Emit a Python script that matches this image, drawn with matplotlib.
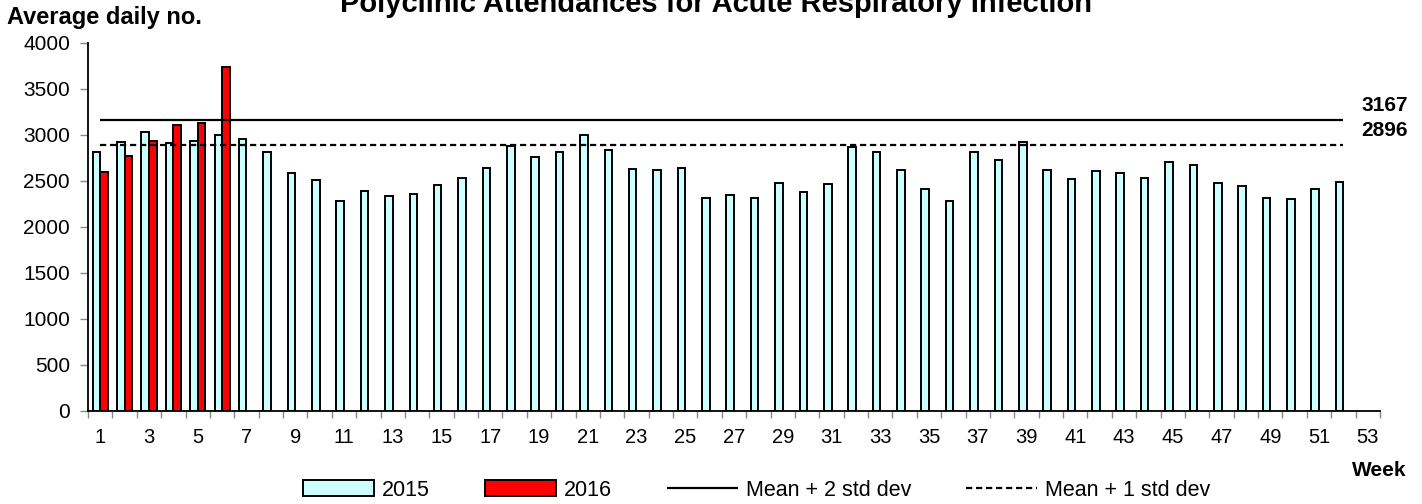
import matplotlib
matplotlib.use("Agg")
import matplotlib.pyplot as plt
import numpy as np

plt.rcParams['font.family'] = ['Liberation Sans', 'DejaVu Sans']

weeks = list(range(1, 53))
values_2015 = [2820, 2920, 3030, 2910, 2930, 3000, 2960, 2820, 2590, 2510,
               2280, 2390, 2340, 2360, 2460, 2530, 2640, 2880, 2760, 2820,
               3000, 2840, 2630, 2620, 2640, 2310, 2350, 2310, 2480, 2380,
               2470, 2870, 2810, 2620, 2410, 2280, 2820, 2730, 2920, 2620,
               2520, 2610, 2590, 2530, 2710, 2670, 2480, 2450, 2320, 2300,
               2410, 2490]
weeks_2016 = [1, 2, 3, 4, 5, 6]
values_2016 = [2600, 2770, 2940, 3110, 3130, 3740]
mean_2sd = 3167
mean_1sd = 2896
tick_labels = [str(w) for w in range(1, 54, 2)]

fig = plt.figure(figsize=(14.22, 5.04), dpi=100)
ax = fig.add_axes([88/1422, 1-411/504, (1380-88)/1422, (411-43)/504])

bw = 0.31
b15 = ax.bar(np.array(weeks) - bw/2, values_2015, width=bw, color='#CCFFFF',
             edgecolor='black', linewidth=1.4, zorder=2)
b16 = ax.bar(np.array(weeks_2016) + bw/2, values_2016, width=bw, color='#FF0000',
             edgecolor='black', linewidth=1.4, zorder=2)
l2 = ax.hlines(mean_2sd, weeks[0], weeks[-1], colors='black', linewidth=1.6, zorder=3)
l1 = ax.hlines(mean_1sd, weeks[0], weeks[-1], colors='black', linewidth=1.6,
               linestyles=(0, (2.8, 1.7)), zorder=3)

for v in (mean_2sd, mean_1sd):
    ax.annotate(str(v), xy=(1.0, v), xycoords=('axes fraction', 'data'),
                xytext=(28, 14), textcoords='offset pixels', ha='right',
                va='center', fontsize=15, fontweight='bold')

ax.set_xlim(0.5, 53.5)
ax.set_ylim(0, 4000)
ax.set_yticks(range(0, 4001, 500))
ax.set_xticks(range(1, 54, 2))
ax.set_xticklabels(tick_labels)
ax.set_xticks(np.arange(0.5, 54, 1), minor=True)
ax.tick_params(axis='x', which='major', length=0, labelsize=14.5, pad=12)
ax.tick_params(axis='x', which='minor', length=5, width=1, color='#888888', direction='out')
ax.tick_params(axis='y', which='major', length=6, width=1, color='#888888', labelsize=15, pad=7)
for s in ('top', 'right'):
    ax.spines[s].set_visible(False)
for s in ('left', 'bottom'):
    ax.spines[s].set_linewidth(1.3)

fig.text(716/1422, 1-12/504, 'Polyclinic Attendances for Acute Respiratory Infection',
         ha='center', va='baseline', fontsize=21, fontweight='bold')
fig.text(7/1422, 1-24/504, 'Average daily no.', ha='left', va='baseline',
         fontsize=17, fontweight='bold')
fig.text(1406/1422, 1-476/504, 'Week', ha='right', va='baseline',
         fontsize=15, fontweight='bold')

entries = [(b15, '2015', 303), (b16, '2016', 485),
           (l2, 'Mean + 2 std dev', 667), (l1, 'Mean + 1 std dev', 966)]
for h, lab, x0 in entries:
    fig.legend([h], [lab], loc='center left', bbox_to_anchor=(x0/1422, 1-490/504),
               frameon=False, fontsize=15.5, handlelength=3.3, handletextpad=0.35,
               borderpad=0, borderaxespad=0)

fig.savefig('out.png', dpi=100)
